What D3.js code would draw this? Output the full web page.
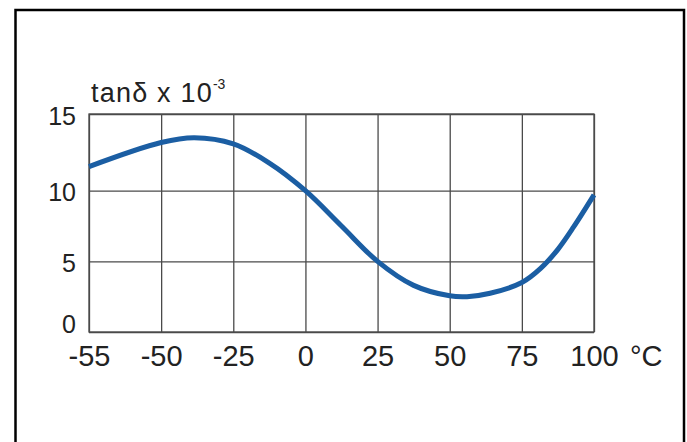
<!DOCTYPE html>
<html>
<head>
<meta charset="utf-8">
<script src="https://cdn.jsdelivr.net/npm/d3@7"></script>
<style>
  body { margin: 0; background: #fff; }
  text { font-family: "Liberation Sans", Arial, sans-serif; fill: #222; }
</style>
</head>
<body>
<script>
// tan delta vs temperature
var temps  = [-55, -50, -38.5, -25, -12.5, 0, 12.5, 25, 37.5, 50, 56, 64, 75, 81.5, 87.5, 93, 100]
var tanD   = [11.57, 13.14, 13.45, 13.05, 11.8, 10.0, 7.5, 5.0, 3.3, 2.56, 2.5, 2.74, 3.5, 4.5, 5.85, 7.45, 9.7]
var xTicks = [-55, -50, -25, 0, 25, 50, 75, 100]
var yTicks = [0, 5, 10, 15]

var W = 687, H = 442
// (window.top is taken, hence the plot* names)
var plotLeft = 89, plotRight = 594, plotTop = 114, plotBottom = 332

var svg = d3.select("body").append("svg")
  .attr("width", W)
  .attr("height", H)

// outer frame (runs off the bottom of the picture)
svg.append("rect")
  .attr("x", 15.5).attr("y", 10)
  .attr("width", 668.5).attr("height", H + 20)
  .attr("fill", "none")
  .attr("stroke", "#000")
  .attr("stroke-width", 2.5)

// first interval -55..-50 is drawn as wide as the others
var step = (plotRight - plotLeft) / (xTicks.length - 1)
var x = d3.scaleLinear()
  .domain([-55, -50, 100])
  .range([plotLeft, plotLeft + step, plotRight])

// the original grid is a bit taller between 10 and 15
var y = d3.scaleLinear()
  .domain([0, 10, 15])
  .range([plotBottom, 190.7, plotTop])

var xAxis = d3.axisBottom(x)
  .tickValues(xTicks)
  .tickSize(-(plotBottom - plotTop))
  .tickFormat(function(d) { return d })

var yAxis = d3.axisLeft(y)
  .tickValues(yTicks)
  .tickSize(-(plotRight - plotLeft))
  .tickFormat(function(d) { return d })

var gx = svg.append("g")
  .attr("transform", "translate(0," + plotBottom + ")")
  .call(xAxis)
gx.select(".domain").remove()
gx.selectAll("line").attr("stroke", "#4a4a4a").attr("stroke-width", 1.3)
gx.selectAll("text")
  .attr("y", 34).attr("dy", 0)
  .style("font-size", "29px")
  .attr("fill", "#222")

var gy = svg.append("g")
  .attr("transform", "translate(" + plotLeft + ",0)")
  .call(yAxis)
gy.select(".domain").remove()
gy.selectAll("line").attr("stroke", "#4a4a4a").attr("stroke-width", 1.3)
gy.selectAll("text")
  .attr("x", -13).attr("dy", 0)
  .attr("y", function(d) { return Math.min(y(d) + 10, y(0)) - y(d) })
  .style("font-size", "25px")
  .attr("fill", "#222")

// plot frame top / right
svg.append("rect")
  .attr("x", plotLeft).attr("y", plotTop)
  .attr("width", plotRight - plotLeft).attr("height", plotBottom - plotTop)
  .attr("fill", "none")
  .attr("stroke", "#4a4a4a")
  .attr("stroke-width", 1.3)

// unit next to the last x label
svg.append("text")
  .attr("x", x(100) + 36)
  .attr("y", plotBottom + 34)
  .style("font-size", "29px")
  .text("°C")

// y title
var title = svg.append("text")
  .attr("x", 91)
  .attr("y", 102)
  .style("font-size", "27px")
  .style("letter-spacing", "1.2px")
  .text("tanδ x 10")
title.append("tspan")
  .attr("dy", -13)
  .style("font-size", "14px")
  .style("letter-spacing", "0px")
  .text("-3")

var line = d3.line()
  .x(function(d, i) { return x(temps[i]) })
  .y(function(d) { return y(d) })
  .curve(d3.curveCatmullRom.alpha(0.5))

svg.append("path")
  .datum(tanD)
  .attr("d", line)
  .attr("fill", "none")
  .attr("stroke", "#1b5ea3")
  .attr("stroke-width", 5)
  .attr("stroke-linecap", "butt")
</script>
</body>
</html>
